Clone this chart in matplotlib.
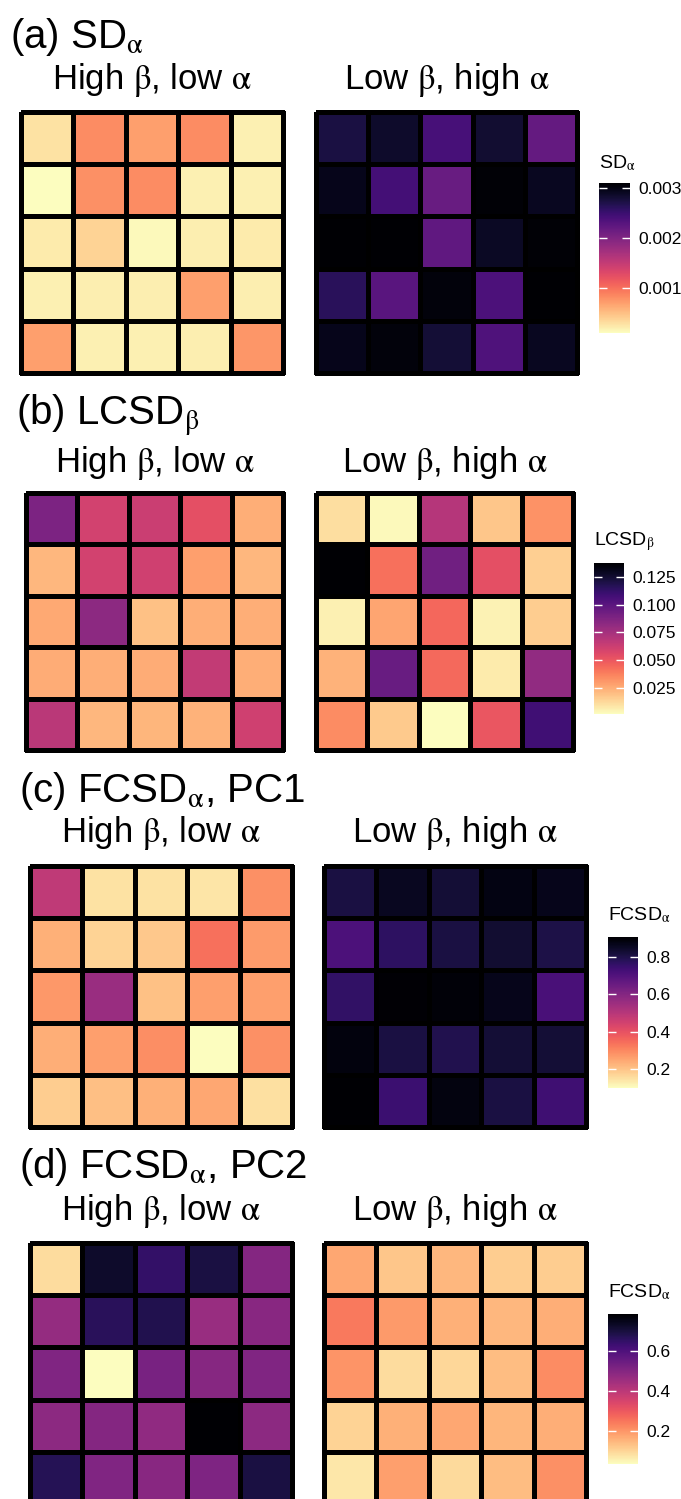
import matplotlib
matplotlib.use("Agg")
import matplotlib.pyplot as plt
import numpy as np
from matplotlib.colors import Normalize
from matplotlib.cm import ScalarMappable

plt.rcParams['font.family'] = ['Liberation Sans', 'DejaVu Sans']
plt.rcParams['mathtext.fontset'] = 'stix'

# ---- data (rows listed top to bottom) ----
# (a) SD_alpha
sd_high_beta = [[0.00028, 0.00082, 0.00070, 0.00082, 0.00019],
                [0.00010, 0.00080, 0.00082, 0.00019, 0.00019],
                [0.00022, 0.00037, 0.00013, 0.00020, 0.00022],
                [0.00019, 0.00020, 0.00020, 0.00070, 0.00020],
                [0.00070, 0.00019, 0.00019, 0.00020, 0.00076]]
sd_low_beta = [[0.00274, 0.00286, 0.00241, 0.00283, 0.00220],
               [0.00295, 0.00244, 0.00217, 0.00307, 0.00292],
               [0.00310, 0.00309, 0.00223, 0.00290, 0.00307],
               [0.00262, 0.00229, 0.00304, 0.00238, 0.00310],
               [0.00295, 0.00304, 0.00280, 0.00235, 0.00292]]
sd_ticks = [0.001, 0.002, 0.003]
sd_labels = ['0.001', '0.002', '0.003']

# (b) LCSD_beta
lc_high_beta = [[0.0887, 0.0600, 0.0627, 0.0530, 0.0243],
                [0.0216, 0.0600, 0.0613, 0.0284, 0.0216],
                [0.0257, 0.0832, 0.0188, 0.0243, 0.0243],
                [0.0250, 0.0243, 0.0250, 0.0654, 0.0243],
                [0.0681, 0.0216, 0.0222, 0.0230, 0.0613]]
lc_low_beta = [[0.0106, 0.0024, 0.0695, 0.0174, 0.0325],
               [0.1380, 0.0421, 0.0928, 0.0530, 0.0147],
               [0.0051, 0.0270, 0.0448, 0.0044, 0.0154],
               [0.0230, 0.0955, 0.0442, 0.0065, 0.0818],
               [0.0339, 0.0160, 0.0010, 0.0503, 0.1090]]
lc_ticks = [0.025, 0.050, 0.075, 0.100, 0.125]
lc_labels = ['0.025', '0.050', '0.075', '0.100', '0.125']

# (c) FCSD_alpha, PC1
pc1_high_beta = [[0.487, 0.148, 0.148, 0.144, 0.286],
                 [0.233, 0.173, 0.193, 0.342, 0.270],
                 [0.274, 0.560, 0.205, 0.261, 0.261],
                 [0.237, 0.261, 0.290, 0.100, 0.286],
                 [0.185, 0.209, 0.233, 0.249, 0.152]]
pc1_low_beta = [[0.810, 0.859, 0.826, 0.879, 0.867],
                [0.713, 0.770, 0.810, 0.834, 0.806],
                [0.762, 0.903, 0.895, 0.867, 0.721],
                [0.887, 0.810, 0.794, 0.826, 0.826],
                [0.907, 0.746, 0.883, 0.810, 0.738]]
pc1_ticks = [0.2, 0.4, 0.6, 0.8]
pc1_labels = ['0.2', '0.4', '0.6', '0.8']

# (d) FCSD_alpha, PC2
pc2_high_beta = [[0.088, 0.725, 0.650, 0.695, 0.500],
                 [0.470, 0.665, 0.680, 0.463, 0.493],
                 [0.508, 0.035, 0.523, 0.496, 0.508],
                 [0.485, 0.500, 0.478, 0.785, 0.485],
                 [0.673, 0.508, 0.493, 0.511, 0.695]]
pc2_low_beta = [[0.174, 0.125, 0.148, 0.114, 0.114],
                [0.245, 0.196, 0.159, 0.148, 0.163],
                [0.204, 0.088, 0.099, 0.140, 0.215],
                [0.103, 0.159, 0.174, 0.151, 0.163],
                [0.073, 0.185, 0.091, 0.140, 0.208]]
pc2_ticks = [0.2, 0.4, 0.6]
pc2_labels = ['0.2', '0.4', '0.6']

sub_left = r'High $\mathrm{\beta}$, low $\mathrm{\alpha}$'
sub_right = r'Low $\mathrm{\beta}$, high $\mathrm{\alpha}$'

W, H = 681, 1499
fig = plt.figure(figsize=(W / 100, H / 100), dpi=100)


def box(x0, y0, x1, y1):
    # pixel box (top-left origin) -> figure fraction rect
    return [x0 / W, 1 - y1 / H, (x1 - x0) / W, (y1 - y0) / H]


def grid(rect, vals, norm):
    ax = fig.add_axes(box(*rect))
    m = ax.pcolormesh(np.array(vals), cmap='magma_r', norm=norm,
                      edgecolors='black', linewidth=2.4)
    m.set_clip_on(False)
    ax.set_xlim(0, 5)
    ax.set_ylim(5, 0)
    ax.axis('off')
    return ax


def panel(title, tx, ty, sy, left, right, lrect, rrect, cbrect, cbtitle,
          ty_cb, ticks, labels):
    allv = np.concatenate([np.ravel(left), np.ravel(right)])
    norm = Normalize(allv.min(), allv.max())
    fig.text(tx / W, 1 - ty / H, title, fontsize=29, va='baseline')
    for vals, rect, sub in [(left, lrect, sub_left), (right, rrect, sub_right)]:
        grid(rect, vals, norm)
        fig.text((rect[0] + rect[2]) / 2 / W, 1 - sy / H, sub,
                 fontsize=25, ha='center', va='baseline')
    cax = fig.add_axes(box(*cbrect))
    cb = fig.colorbar(ScalarMappable(norm=norm, cmap='magma_r'), cax=cax,
                      ticks=ticks)
    cb.outline.set_visible(False)
    cb.ax.set_yticklabels(labels)
    cax.tick_params(axis='y', direction='in', color='white', length=6,
                    width=1, left=True, right=True, labelsize=12.5, pad=6)
    fig.text(cbrect[0] / W, 1 - ty_cb / H, cbtitle, fontsize=14, va='center')


panel(r'(a) $\mathregular{SD}_{\mathrm{\alpha}}$', 10, 48, 89,
      sd_high_beta, sd_low_beta,
      (21, 112, 283, 373), (316, 112, 577, 373), (599, 183, 630, 333),
      r'$\mathregular{SD}_{\mathrm{\alpha}}$', 163, sd_ticks, sd_labels)

panel(r'(b) $\mathregular{LCSD}_{\mathrm{\beta}}$', 16, 425, 472,
      lc_high_beta, lc_low_beta,
      (26, 493, 283, 750), (316, 493, 573, 750), (594, 563, 624, 714),
      r'$\mathregular{LCSD}_{\mathrm{\beta}}$', 542, lc_ticks, lc_labels)

panel(r'(c) $\mathregular{FCSD}_{\mathrm{\alpha}}$, PC1', 19, 802, 842,
      pc1_high_beta, pc1_low_beta,
      (30, 866, 292, 1127), (324, 866, 586, 1127), (608, 937, 638, 1088),
      r'$\mathregular{FCSD}_{\mathrm{\alpha}}$', 915, pc1_ticks, pc1_labels)

panel(r'(d) $\mathregular{FCSD}_{\mathrm{\alpha}}$, PC2', 19, 1178, 1220,
      pc2_high_beta, pc2_low_beta,
      (30, 1243, 292, 1504), (324, 1243, 586, 1504), (608, 1314, 638, 1464),
      r'$\mathregular{FCSD}_{\mathrm{\alpha}}$', 1292, pc2_ticks, pc2_labels)

fig.savefig('out.png', dpi=100)
